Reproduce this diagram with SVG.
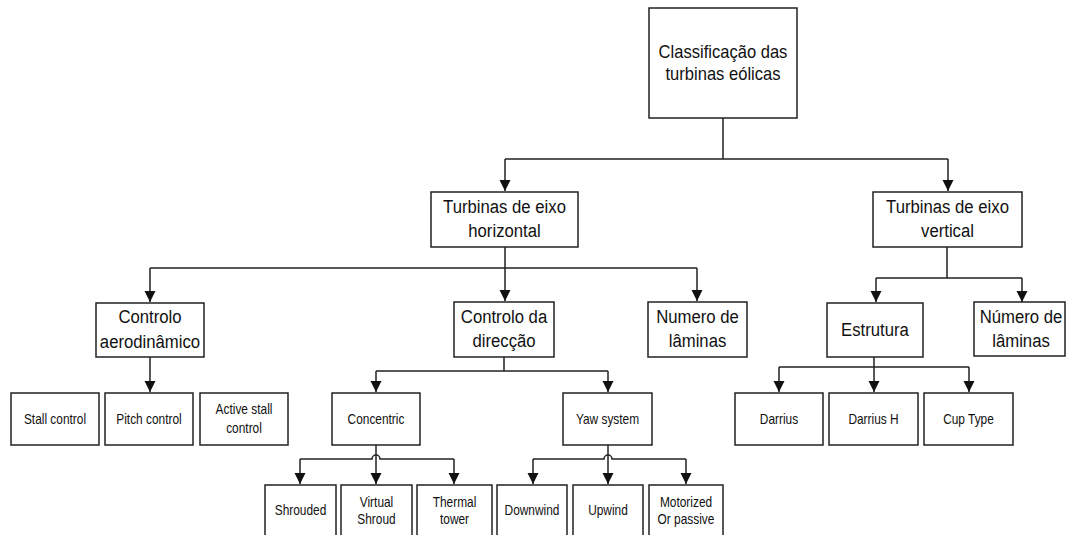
<svg xmlns="http://www.w3.org/2000/svg" width="1067" height="535" viewBox="0 0 1067 535">
<defs>
<marker id="arr" markerUnits="userSpaceOnUse" markerWidth="11" markerHeight="12" refX="11" refY="5.5" orient="auto">
<path d="M0,0 L11,5.5 L0,11 z" fill="#111"/>
</marker>
<style>
.box{fill:#fff;stroke:#222;stroke-width:1.5}
.c{fill:none;stroke:#222;stroke-width:1.5}
.a{fill:none;stroke:#222;stroke-width:1.5;marker-end:url(#arr)}
text{font-family:"Liberation Sans",Arial,sans-serif;fill:#111;text-anchor:middle}
.t1{font-size:18px}
.t2{font-size:19px}
.t3{font-size:14px}
</style>
</defs>
<rect width="1067" height="535" fill="#fff"/>
<g id="connectors">
<path class="c" d="M723,118 V159 M505,159 H948"/>
<path class="a" d="M505,159 V191"/>
<path class="a" d="M948,159 V191"/>
<path class="c" d="M505,247 V268 M150,268 H697"/>
<path class="a" d="M150,268 V302"/>
<path class="a" d="M505,268 V301"/>
<path class="a" d="M697,268 V301"/>
<path class="c" d="M947,247 V278 M876,278 H1022"/>
<path class="a" d="M876,278 V302"/>
<path class="a" d="M1022,278 V302"/>
<path class="a" d="M150,357 V392"/>
<path class="c" d="M504,357 V371 M376,371 H608"/>
<path class="a" d="M376,371 V392"/>
<path class="a" d="M608,371 V392"/>
<path class="a" d="M376,445 V484"/>
<path class="c" d="M300,459 H372 A4,4 0 0 1 380,459 H454"/>
<path class="a" d="M300,459 V484"/>
<path class="a" d="M454,459 V484"/>
<path class="a" d="M608,445 V484"/>
<path class="c" d="M533,459 H604 A4,4 0 0 1 612,459 H686"/>
<path class="a" d="M533,459 V484"/>
<path class="a" d="M686,459 V484"/>
<path class="c" d="M874,357 V367 M779,367 H969"/>
<path class="a" d="M779,367 V392"/>
<path class="a" d="M874,367 V392"/>
<path class="a" d="M969,367 V392"/>
</g>
<g id="root">
<rect class="box" x="649" y="8" width="148" height="110"/>
<text class="t1" transform="translate(723,0) scale(0.92,1)" y="58">Classificação das</text>
<text class="t1" transform="translate(723,0) scale(0.92,1)" y="80">turbinas eólicas</text>
</g>
<g id="horizontal">
<rect class="box" x="431" y="192" width="147" height="55"/>
<text class="t2" transform="translate(504.5,0) scale(0.88,1)" y="213">Turbinas de eixo</text>
<text class="t2" transform="translate(504.5,0) scale(0.88,1)" y="237">horizontal</text>
</g>
<g id="vertical">
<rect class="box" x="873" y="192" width="149" height="55"/>
<text class="t2" transform="translate(947.5,0) scale(0.88,1)" y="213">Turbinas de eixo</text>
<text class="t2" transform="translate(947.5,0) scale(0.88,1)" y="237">vertical</text>
</g>
<g id="aero">
<rect class="box" x="96" y="303" width="108" height="54"/>
<text class="t2" transform="translate(150,0) scale(0.88,1)" y="323">Controlo</text>
<text class="t2" transform="translate(150,0) scale(0.88,1)" y="348">aerodinâmico</text>
</g>
<g id="direccao">
<rect class="box" x="454" y="302" width="100" height="55"/>
<text class="t2" transform="translate(504,0) scale(0.88,1)" y="323">Controlo da</text>
<text class="t2" transform="translate(504,0) scale(0.88,1)" y="347">direcção</text>
</g>
<g id="numero-h">
<rect class="box" x="648" y="302" width="99" height="55"/>
<text class="t2" transform="translate(697.5,0) scale(0.88,1)" y="323">Numero de</text>
<text class="t2" transform="translate(697.5,0) scale(0.88,1)" y="347">lâminas</text>
</g>
<g id="estrutura">
<rect class="box" x="827" y="303" width="96" height="54"/>
<text class="t2" transform="translate(875,0) scale(0.88,1)" y="336">Estrutura</text>
</g>
<g id="numero-v">
<rect class="box" x="974" y="302" width="91" height="54"/>
<text class="t2" transform="translate(1021,0) scale(0.88,1)" y="323">Número de</text>
<text class="t2" transform="translate(1021,0) scale(0.88,1)" y="347">lâminas</text>
</g>
<g id="stall">
<rect class="box" x="11" y="393" width="88" height="52"/>
<text class="t3" transform="translate(55,0) scale(0.85,1)" y="424">Stall control</text>
</g>
<g id="pitch">
<rect class="box" x="105" y="393" width="88" height="52"/>
<text class="t3" transform="translate(149,0) scale(0.85,1)" y="424">Pitch control</text>
</g>
<g id="active">
<rect class="box" x="200" y="393" width="88" height="52"/>
<text class="t3" transform="translate(244,0) scale(0.85,1)" y="414">Active stall</text>
<text class="t3" transform="translate(244,0) scale(0.85,1)" y="433">control</text>
</g>
<g id="concentric">
<rect class="box" x="332" y="393" width="88" height="52"/>
<text class="t3" transform="translate(376,0) scale(0.85,1)" y="424">Concentric</text>
</g>
<g id="yaw">
<rect class="box" x="563" y="393" width="89" height="52"/>
<text class="t3" transform="translate(607.5,0) scale(0.85,1)" y="424">Yaw system</text>
</g>
<g id="shrouded">
<rect class="box" x="265" y="485" width="71" height="56"/>
<text class="t3" transform="translate(300.5,0) scale(0.85,1)" y="515">Shrouded</text>
</g>
<g id="virtual">
<rect class="box" x="341" y="485" width="71" height="56"/>
<text class="t3" transform="translate(376.5,0) scale(0.85,1)" y="507">Virtual</text>
<text class="t3" transform="translate(376.5,0) scale(0.85,1)" y="524">Shroud</text>
</g>
<g id="thermal">
<rect class="box" x="417" y="485" width="75" height="56"/>
<text class="t3" transform="translate(454.5,0) scale(0.85,1)" y="507">Thermal</text>
<text class="t3" transform="translate(454.5,0) scale(0.85,1)" y="524">tower</text>
</g>
<g id="downwind">
<rect class="box" x="497" y="485" width="70" height="56"/>
<text class="t3" transform="translate(532,0) scale(0.85,1)" y="515">Downwind</text>
</g>
<g id="upwind">
<rect class="box" x="573" y="485" width="70" height="56"/>
<text class="t3" transform="translate(608,0) scale(0.85,1)" y="515">Upwind</text>
</g>
<g id="motorized">
<rect class="box" x="649" y="485" width="74" height="56"/>
<text class="t3" transform="translate(686,0) scale(0.85,1)" y="507">Motorized</text>
<text class="t3" transform="translate(686,0) scale(0.85,1)" y="524">Or passive</text>
</g>
<g id="darrius">
<rect class="box" x="735" y="393" width="88" height="52"/>
<text class="t3" transform="translate(779,0) scale(0.85,1)" y="424">Darrius</text>
</g>
<g id="darriush">
<rect class="box" x="829" y="393" width="89" height="52"/>
<text class="t3" transform="translate(873.5,0) scale(0.85,1)" y="424">Darrius H</text>
</g>
<g id="cup">
<rect class="box" x="924" y="393" width="89" height="52"/>
<text class="t3" transform="translate(968.5,0) scale(0.85,1)" y="424">Cup Type</text>
</g>
</svg>
